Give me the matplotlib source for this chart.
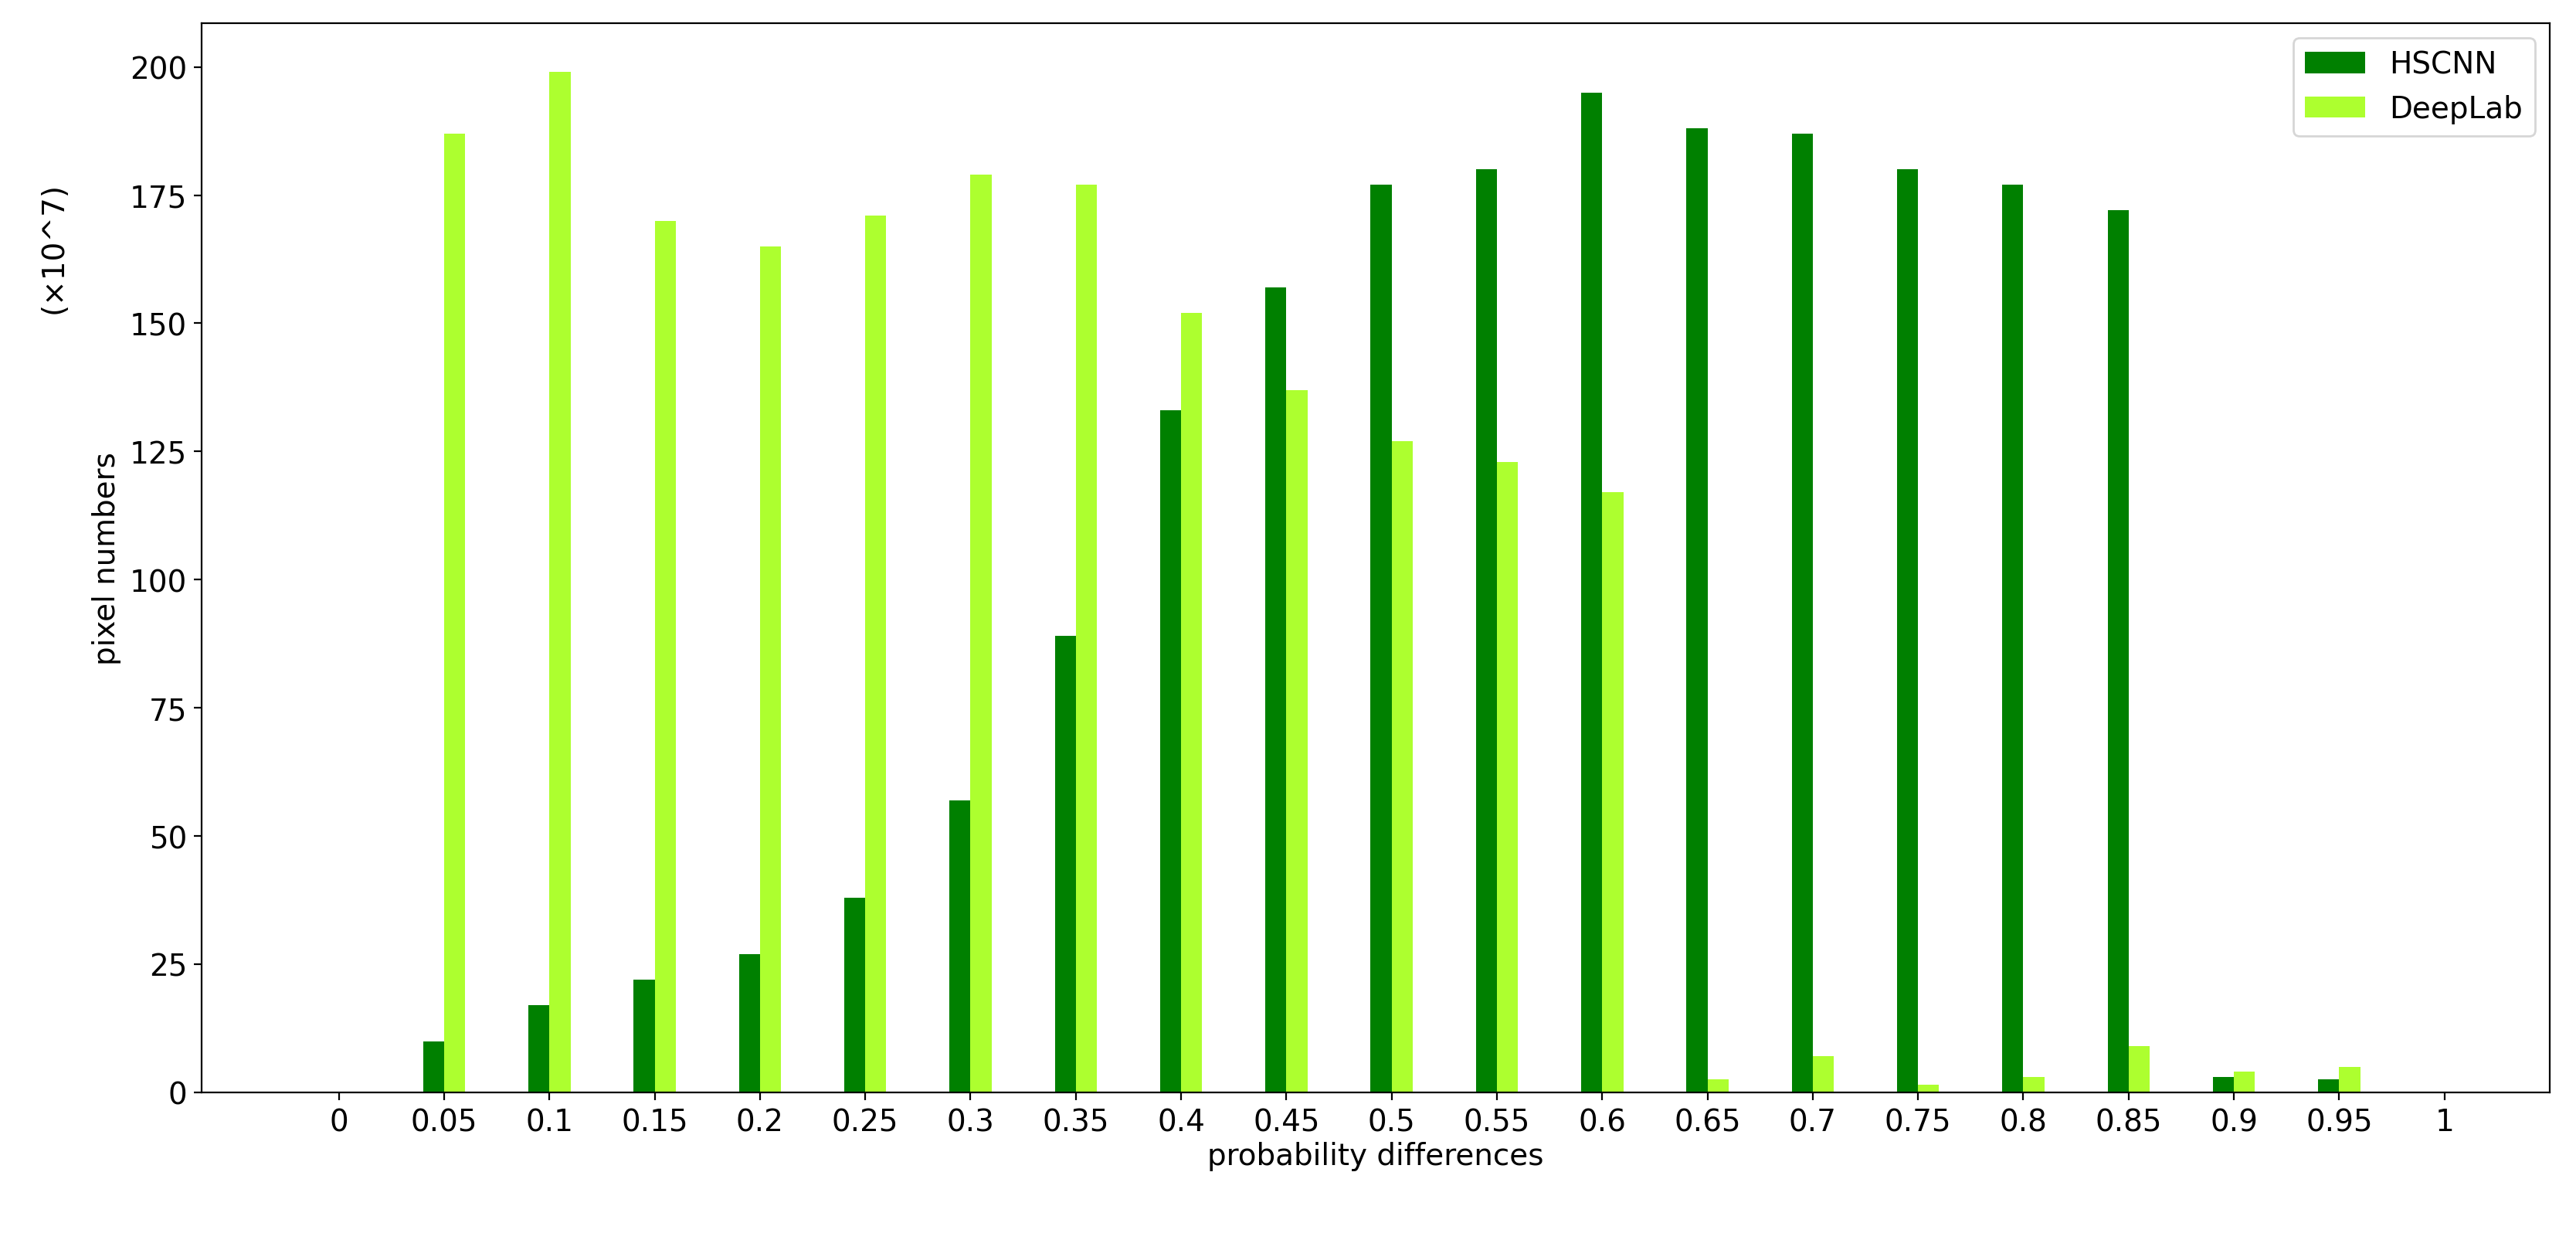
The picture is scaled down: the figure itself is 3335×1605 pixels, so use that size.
import matplotlib
matplotlib.use("Agg")
import matplotlib.pyplot as plt
import numpy as np

labels = ["0","0.05","0.1","0.15","0.2","0.25","0.3","0.35","0.4","0.45","0.5",
          "0.55","0.6","0.65","0.7","0.75","0.8","0.85","0.9","0.95","1"]
hscnn = [0,10,17,22,27,38,57,89,133,157,177,180,195,188,187,180,177,172,3,2.5,0]
deeplab = [0,187,199,170,165,171,179,177,152,137,127,123,117,2.5,7,1.5,3,9,4,5,0]

fig = plt.figure(figsize=(16.675, 8.03), dpi=200)
ax = fig.add_axes([0.0784, 0.119, 0.9114, 0.862])
x = np.arange(len(labels))
w = 0.2
ax.bar(x - w/2, hscnn, w, color="#008000", label="HSCNN")
ax.bar(x + w/2, deeplab, w, color="#adff2f", label="DeepLab")
ax.set_xticks(x)
ax.set_xticklabels(labels)
ax.set_yticks(np.arange(0, 201, 25))
ax.set_xlim(-1.3, 21.0)
ax.set_ylim(0, 208.6)
ax.tick_params(labelsize=14)
ax.set_xlabel("probability differences", fontsize=14, labelpad=2)
ax.set_ylabel("pixel numbers", fontsize=14)
ax.text(-0.063, 0.79, "(×10^7)", transform=ax.transAxes, rotation=90,
        fontsize=14, ha="center", va="center")
ax.legend(loc="upper right", fontsize=14)
fig.savefig("out.png")
